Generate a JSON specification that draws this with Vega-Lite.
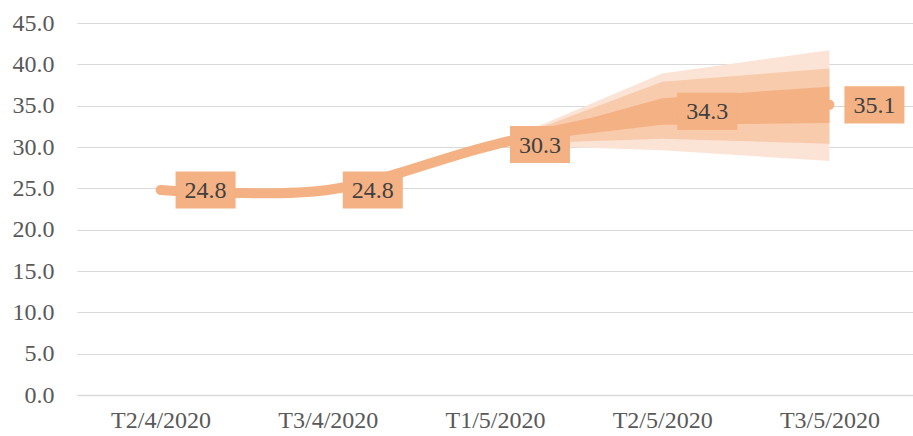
{
  "$schema": "https://vega.github.io/schema/vega-lite/v6.json",
  "autosize": "none",
  "width": 836,
  "height": 372,
  "padding": {"left": 77, "top": 23, "right": 0, "bottom": 41},
  "background": "white",
  "config": {
    "view": {"stroke": null},
    "font": "Liberation Serif"
  },
  "datasets": {
    "main": [
      {"period": "T2/4/2020", "value": 24.8},
      {"period": "T3/4/2020", "value": 24.8},
      {"period": "T1/5/2020", "value": 30.3},
      {"period": "T2/5/2020", "value": 34.3},
      {"period": "T3/5/2020", "value": 35.1}
    ],
    "fan": [
      {"period": "T1/5/2020", "lo1": 30.3, "hi1": 30.3, "lo2": 30.3, "hi2": 30.3, "lo3": 30.3, "hi3": 30.3},
      {"period": "T2/5/2020", "lo1": 29.6, "hi1": 38.9, "lo2": 31.0, "hi2": 37.9, "lo3": 32.7, "hi3": 35.9},
      {"period": "T3/5/2020", "lo1": 28.3, "hi1": 41.7, "lo2": 30.4, "hi2": 39.5, "lo3": 32.9, "hi3": 37.3}
    ]
  },
  "encoding": {
    "x": {
      "field": "period",
      "type": "ordinal",
      "sort": ["T2/4/2020", "T3/4/2020", "T1/5/2020", "T2/5/2020", "T3/5/2020"],
      "scale": {"type": "point", "padding": 0.5},
      "axis": {
        "title": null,
        "labelAngle": 0,
        "labelFont": "Liberation Serif",
        "labelFontSize": 24,
        "labelColor": "#595959",
        "labelPadding": 13,
        "ticks": false,
        "domain": true,
        "domainColor": "#d9d9d9",
        "domainWidth": 1.5,
        "grid": false
      }
    }
  },
  "layer": [
    {
      "data": {"name": "fan"},
      "mark": {"type": "area", "color": "#FBE4D5", "opacity": 1},
      "encoding": {
        "y": {"field": "lo1", "type": "quantitative", "scale": {"domain": [0, 45]},
          "axis": {
            "title": null,
            "values": [0, 5, 10, 15, 20, 25, 30, 35, 40, 45],
            "format": ".1f",
            "labelFont": "Liberation Serif",
            "labelFontSize": 24,
            "labelColor": "#595959",
            "labelPadding": 23,
            "ticks": false,
            "domain": false,
            "grid": true,
            "gridColor": "#d9d9d9",
            "gridWidth": 1.2
          }
        },
        "y2": {"field": "hi1"}
      }
    },
    {
      "data": {"name": "fan"},
      "mark": {"type": "area", "color": "#F8CBAD", "opacity": 1},
      "encoding": {
        "y": {"field": "lo2", "type": "quantitative"},
        "y2": {"field": "hi2"}
      }
    },
    {
      "data": {"name": "fan"},
      "mark": {"type": "area", "color": "#F4B183", "opacity": 1},
      "encoding": {
        "y": {"field": "lo3", "type": "quantitative"},
        "y2": {"field": "hi3"}
      }
    },
    {
      "data": {"name": "main"},
      "mark": {"type": "line", "color": "#F4B183", "strokeWidth": 10, "strokeCap": "round", "interpolate": "cardinal", "tension": 0},
      "encoding": {
        "y": {"field": "value", "type": "quantitative"}
      }
    },
    {
      "data": {"name": "main"},
      "mark": {"type": "point", "filled": true, "color": "#F4B183", "opacity": 1, "size": 3600, "strokeWidth": 0,
        "shape": "M0.5,-0.62L2.5,-0.62L2.5,0.62L0.5,0.62Z"},
      "encoding": {
        "y": {"field": "value", "type": "quantitative"}
      }
    },
    {
      "data": {"name": "main"},
      "mark": {"type": "text", "dx": 45, "dy": 1, "align": "center", "baseline": "middle", "font": "Liberation Serif", "fontSize": 24, "color": "#404040"},
      "encoding": {
        "y": {"field": "value", "type": "quantitative"},
        "text": {"field": "value", "type": "quantitative", "format": ".1f"}
      }
    }
  ]
}
